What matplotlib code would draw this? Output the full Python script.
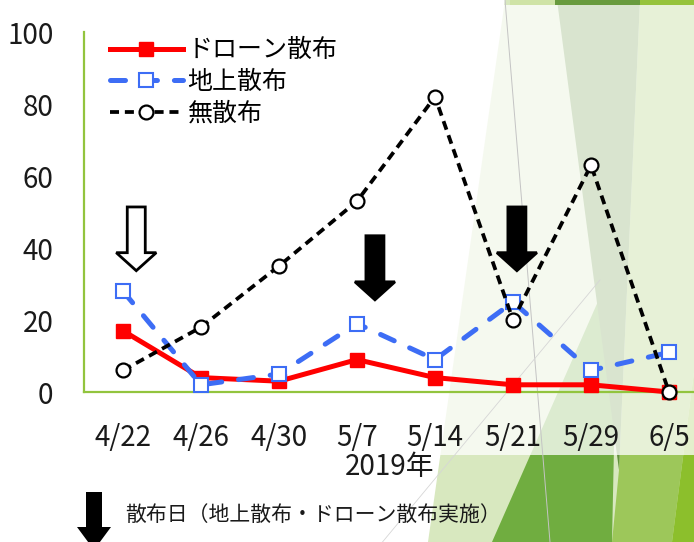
import matplotlib
matplotlib.use("Agg")
import matplotlib.pyplot as plt
from matplotlib.patches import Polygon, Rectangle

plt.rcParams['font.family'] = ['Noto Sans CJK JP', 'DejaVu Sans']
plt.rcParams['lines.scale_dashes'] = False

# ---- data -------------------------------------------------------------
dates = ["4/22", "4/26", "4/30", "5/7", "5/14", "5/21", "5/29", "6/5"]
drone = [17, 4, 3, 9, 4, 2, 2, 0]
ground = [28, 2, 5, 19, 9, 25, 6, 11]
untreated = [6, 18, 35, 53, 82, 20, 63, 0]
yticks = [0, 20, 40, 60, 80, 100]

# spray-day arrows: (category position, top, tip, filled)
arrows = [(0.17, 51.4, 33.7, False),
          (3.23, 43.4, 25.6, True),
          (5.05, 51.4, 33.7, True)]

W, H = 694, 542
fig = plt.figure(figsize=(W / 100, H / 100), dpi=100)

# ---- decorative background (pixel coordinates) -------------------------
bg = fig.add_axes([0, 0, 1, 1], zorder=-5)
bg.set_xlim(0, W)
bg.set_ylim(H, 0)
bg.axis('off')

shapes = [
    ([(505, 0), (694, 0), (694, 542), (428, 542)], '#d8e8bf'),
    ([(612, 542), (672, 542), (694, 372), (694, 0), (640, 0), (619, 470)], '#9dc75a'),
    ([(492, 542), (612, 542), (618, 256)], '#70ad40'),
    ([(557, 0), (640, 0), (619, 470)], '#62923b'),
    ([(672, 542), (694, 542), (694, 372)], '#8cbf2c'),
]
for pts, col in shapes:
    bg.add_patch(Polygon(pts, closed=True, facecolor=col, edgecolor='none'))
bg.plot([505, 550], [0, 542], color='#c4c4c4', lw=0.7)
bg.plot([380, 600], [545, 280], color='#d6d6d6', lw=0.6)
bg.add_patch(Rectangle((510, 0), 45, 5, facecolor='#cfe3a6', edgecolor='none'))
bg.add_patch(Rectangle((555, 0), 85, 5, facecolor='#689a3e', edgecolor='none'))
bg.add_patch(Rectangle((640, 0), 54, 5, facecolor='#96c33b', edgecolor='none'))
# white translucent panel behind the chart
bg.add_patch(Rectangle((0, 5), W, 450, facecolor='white', edgecolor='none', alpha=0.76))

# ---- chart ------------------------------------------------------------
left, right = 84 / W, 708 / W
bottom, top = (H - 392) / H, (H - 32) / H
ax = fig.add_axes([left, bottom, right - left, top - bottom])
ax.set_facecolor('none')

x = list(range(len(dates)))
green = '#92c43e'
blue = '#3d6df5'

ax.plot(x, drone, color='#ff0000', lw=3.6, marker='s', markersize=10,
        markerfacecolor='#ff0000', markeredgecolor='#ff0000',
        label='ドローン散布', zorder=3, clip_on=False)
ax.plot(x, ground, color=blue, lw=3.6, dashes=(10.8, 12.2),
        dash_capstyle='round', marker='s', markersize=10,
        markerfacecolor='white', markeredgecolor=blue, markeredgewidth=1.5,
        label='地上散布', zorder=4, clip_on=False)
ax.plot(x, untreated, color='black', lw=2.7, dashes=(6.5, 4.2),
        marker='o', markersize=10, markerfacecolor='white',
        markeredgecolor='black', markeredgewidth=1.6,
        label='無散布', zorder=5, clip_on=False)

# spray-day arrows in data units (78 px per category, 3.6 px per unit)
px_x = 1 / 78
for xc, ytop, ytip, filled in arrows:
    hs, hh = 9 * px_x, 20 * px_x
    yhead = ytip + 5.0
    pts = [(xc - hs, ytop), (xc + hs, ytop), (xc + hs, yhead), (xc + hh, yhead),
           (xc, ytip), (xc - hh, yhead), (xc - hs, yhead)]
    ax.add_patch(Polygon(pts, closed=True,
                         facecolor='black' if filled else 'white',
                         edgecolor='black', lw=2.0, zorder=6,
                         joinstyle='miter'))

ax.set_xlim(-0.5, 7.5)
ax.set_ylim(0, 100)
ax.set_xticks(x)
ax.set_xticklabels(dates)
ax.set_yticks(yticks)
ax.tick_params(axis='both', length=0, labelsize=20, colors='#1a1a1a')
ax.tick_params(axis='y', pad=22)
ax.tick_params(axis='x', pad=22)
for s in ('top', 'right'):
    ax.spines[s].set_visible(False)
for s in ('left', 'bottom'):
    ax.spines[s].set_color(green)
    ax.spines[s].set_linewidth(1.6)

leg = ax.legend(loc='upper left', bbox_to_anchor=((110 - 84) / 624, 0.985),
                frameon=False, fontsize=18, handlelength=2.9,
                handletextpad=0.2, labelspacing=0.22, borderpad=0,
                borderaxespad=0, numpoints=1)

fig.text(390 / W, 1 - 467 / H, '2019年', ha='center', va='center',
         fontsize=20, color='#1a1a1a')

# legend for the spray-day arrow
fig.text(125 / W, 1 - 515 / H, '散布日（地上散布・ドローン散布実施）',
         ha='left', va='center', fontsize=15, color='#1a1a1a')
arrow_px = [(86, 492), (102, 492), (102, 527), (111, 527), (94, 550),
            (77, 527), (86, 527)]
bg.add_patch(Polygon(arrow_px, closed=True, facecolor='black',
                     edgecolor='none', zorder=10, clip_on=False))

fig.savefig('out.png', dpi=100)
